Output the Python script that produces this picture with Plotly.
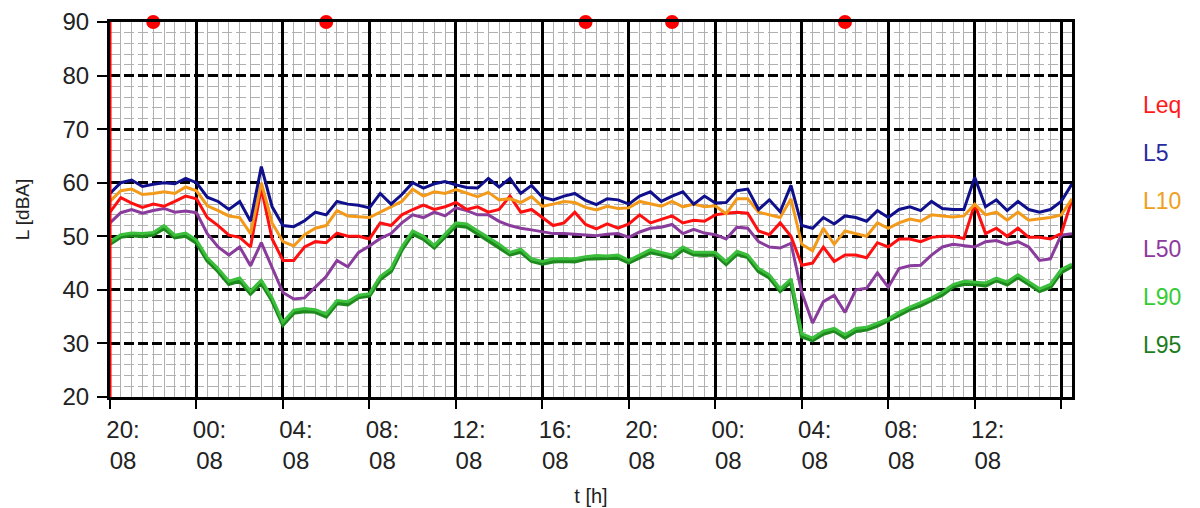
import plotly.graph_objects as go

# ---- data (30-minute steps, hours since 20:08) ----
step_h = 0.5
hours = [i * step_h for i in range(90)]

leq = [54.5, 57.2, 56.2, 55.4, 56.0, 55.6, 56.5, 57.5, 57.0, 53.5,
       52.0, 50.2, 49.8, 48.0, 59.0, 49.5, 45.5, 45.5, 48.0, 49.0,
       48.8, 50.6, 50.0, 50.0, 49.5, 52.5, 52.0, 54.0, 55.0, 55.8,
       55.0, 55.5, 56.3, 55.0, 55.5, 54.5, 55.0, 57.5, 54.5, 55.0,
       53.5, 52.0, 52.5, 54.5, 52.2, 51.4, 52.3, 51.5, 52.3, 54.0,
       52.5, 53.2, 53.8, 52.5, 53.0, 52.8, 54.0, 54.3, 54.5, 54.3,
       51.0, 50.3, 52.5, 50.0, 44.6, 45.0, 48.0, 45.3, 46.5, 46.5,
       46.0, 48.8, 48.0, 49.5, 49.5, 49.0, 49.8, 50.0, 50.0, 49.6,
       56.0, 50.5, 51.5, 50.0, 51.5, 49.8, 49.8, 49.5, 50.5, 56.8]

l5 = [58.0, 60.0, 60.5, 59.3, 59.7, 60.0, 59.8, 60.8, 60.0, 57.3,
      56.5, 55.0, 56.5, 52.8, 63.0, 55.5, 52.0, 51.8, 52.9, 54.5,
      54.0, 56.5, 56.0, 55.8, 55.3, 58.0, 56.0, 57.8, 60.0, 59.0,
      59.8, 60.2, 59.6, 59.1, 59.0, 60.8, 59.2, 60.8, 58.0, 59.5,
      57.3, 56.8, 57.5, 58.0, 56.7, 55.9, 57.0, 56.8, 56.0, 57.5,
      58.3, 56.5, 57.5, 58.3, 56.0, 57.5, 56.2, 56.3, 58.5, 58.8,
      55.0, 56.8, 54.6, 59.5, 52.0, 51.5, 53.5, 52.3, 53.8, 53.5,
      52.8, 54.8, 53.5, 55.0, 55.5, 54.8, 56.5, 55.2, 55.0, 55.0,
      61.0, 55.5, 56.8, 54.8, 56.5, 55.0, 54.5, 55.0, 56.5, 59.8]

l10 = [56.5, 58.5, 58.8, 57.8, 58.0, 58.3, 58.0, 59.2, 58.5, 55.7,
       54.8, 53.8, 53.5, 50.5, 60.0, 52.5, 49.0, 48.2, 50.3, 51.5,
       52.0, 54.8, 53.8, 53.6, 53.5, 54.5, 55.5, 56.5, 58.8, 57.5,
       58.3, 58.0, 58.7, 58.0, 57.4, 58.2, 56.8, 57.0, 56.3, 57.4,
       55.6, 56.0, 56.5, 56.3, 55.4, 54.9, 55.6, 55.2, 55.3, 56.5,
       56.0, 55.6, 56.5, 55.5, 56.0, 55.5, 55.7, 54.2, 57.0, 57.0,
       54.5, 54.0, 53.5, 57.0, 48.5, 47.3, 51.5, 48.5, 51.0, 50.5,
       50.0, 52.5, 51.5, 52.5, 53.2, 52.8, 54.0, 53.8, 53.6, 53.8,
       56.0, 54.0, 54.5, 53.0, 54.5, 53.0, 53.3, 53.5, 54.0, 57.0]

l50 = [52.5, 54.4, 55.0, 54.3, 54.8, 55.2, 54.5, 54.7, 54.4, 50.5,
       48.0, 46.5, 48.0, 44.5, 48.8, 44.0, 39.5, 38.3, 38.5, 40.5,
       42.5, 45.5, 44.3, 47.0, 48.2, 49.6, 50.5, 52.5, 54.0, 53.5,
       54.5, 53.8, 55.3, 54.8, 54.0, 54.0, 52.8, 52.0, 51.5, 51.2,
       50.8, 50.5, 50.5, 50.4, 50.3, 50.1, 50.4, 50.5, 49.8, 50.8,
       51.5, 51.7, 52.2, 50.5, 51.3, 50.6, 50.3, 49.5, 51.7, 51.5,
       49.0, 48.0, 47.8, 48.7, 39.5, 33.8, 37.8, 39.0, 35.8, 40.0,
       40.3, 43.2, 40.5, 44.0, 44.5, 44.6, 46.5, 48.0, 48.5, 48.3,
       48.0, 49.0, 49.2, 48.5, 49.0, 48.0, 45.5, 45.8, 50.2, 50.5]

l90 = [49.0, 50.3, 50.6, 50.5, 50.7, 52.0, 50.2, 50.6, 49.3, 46.0,
       44.0, 41.6, 42.2, 39.8, 41.8, 38.5, 34.0, 36.2, 36.5, 36.3,
       35.5, 38.0, 37.8, 39.0, 39.3, 42.5, 44.0, 48.0, 51.0, 50.0,
       48.3, 50.5, 52.5, 52.3, 51.0, 49.8, 48.5, 47.0, 47.6, 45.8,
       45.3, 45.8, 45.8, 45.8, 46.2, 46.4, 46.3, 46.5, 45.5, 46.5,
       47.5, 47.0, 46.5, 48.0, 47.0, 47.0, 47.0, 45.3, 47.2, 46.5,
       44.0, 42.8, 40.2, 42.0, 31.8, 31.0, 32.3, 32.8, 31.6, 32.8,
       33.0, 33.8, 34.6, 35.8, 36.8, 37.6, 38.5, 39.6, 41.0, 41.6,
       41.5, 41.3, 42.2, 41.5, 42.8, 41.5, 40.2, 41.0, 43.8, 44.8]

l95 = [48.6, 49.9, 50.2, 50.0, 50.3, 51.5, 49.8, 50.1, 48.8, 45.5,
       43.5, 41.1, 41.7, 39.3, 41.3, 38.0, 33.5, 35.7, 36.0, 35.9,
       35.0, 37.5, 37.3, 38.6, 38.9, 42.0, 43.5, 47.5, 50.5, 49.5,
       47.9, 50.0, 52.0, 51.8, 50.5, 49.3, 48.0, 46.6, 47.1, 45.4,
       44.9, 45.3, 45.4, 45.3, 45.8, 45.9, 45.9, 46.0, 45.1, 46.0,
       47.0, 46.6, 46.0, 47.5, 46.6, 46.5, 46.6, 44.8, 46.7, 46.1,
       43.5, 42.3, 39.8, 41.5, 31.3, 30.6, 31.8, 32.4, 31.1, 32.3,
       32.6, 33.3, 34.2, 35.3, 36.4, 37.1, 38.1, 39.1, 40.6, 41.1,
       41.1, 40.8, 41.8, 41.0, 42.4, 41.0, 39.8, 40.5, 43.3, 44.4]

# event markers (hours since start), drawn on the 90 dB line
event_hours = [2, 10, 22, 26, 34]
event_level = 90

tick_hours = [0, 4, 8, 12, 16, 20, 24, 28, 32, 36, 40, 44]
tick_labels = ["20:<br>08", "00:<br>08", "04:<br>08", "08:<br>08", "12:<br>08",
               "16:<br>08", "20:<br>08", "00:<br>08", "04:<br>08", "08:<br>08",
               "12:<br>08", ""]

series = [
    ("L95", l95, "#1e8a1e", 4.0, "#1e7d1e"),
    ("L90", l90, "#3cbf3c", 3.0, "#33cc33"),
    ("L50", l50, "#8a3c9c", 3.0, "#8e3a9e"),
    ("Leq", leq, "#ff1010", 3.0, "#ff1a1a"),
    ("L10", l10, "#f39a1a", 3.0, "#f0a020"),
    ("L5", l5, "#10108c", 3.0, "#2a2aa0"),
]
legend_order = ["Leq", "L5", "L10", "L50", "L90", "L95"]

FONT = "Liberation Sans, Arial, sans-serif"

fig = go.Figure()
for name, vals, color, width, _ in series:
    fig.add_trace(go.Scatter(x=hours, y=vals, mode="lines", name=name,
                             line=dict(color=color, width=width),
                             showlegend=False))

fig.add_trace(go.Scatter(x=event_hours, y=[event_level] * len(event_hours),
                         mode="markers", marker=dict(color="#ff0000", size=14),
                         cliponaxis=False, showlegend=False, name="events"))

# red cursor line at the start of the record
fig.add_shape(type="line", xref="x", yref="paper", x0=hours[0], x1=hours[0],
              y0=0, y1=1, line=dict(color="#ff0000", width=3), layer="above")

# legend as coloured text on the right
label_colors = {s[0]: s[4] for s in series}
for i, name in enumerate(legend_order):
    fig.add_annotation(xref="paper", yref="paper", x=1.0715, y=0.779 - i * 0.128,
                       xanchor="left", yanchor="middle", showarrow=False,
                       text=name, font=dict(family=FONT, size=23,
                                            color=label_colors[name]))

fig.update_layout(
    width=1200, height=508,
    margin=dict(l=102, r=136, t=14, b=119, autoexpand=False),
    paper_bgcolor="white", plot_bgcolor="white",
    font=dict(family=FONT, color="#222"),
    xaxis=dict(
        range=[hours[0], hours[-1]],
        tickmode="array", tickvals=tick_hours, ticktext=tick_labels,
        tickfont=dict(size=24, color="#222"),
        ticklabelshift=13, ticklabelstandoff=0,
        ticks="outside", ticklen=9, tickwidth=2, tickcolor="black",
        showgrid=True, gridcolor="black", gridwidth=2.5,
        minor=dict(dtick=0.5, tick0=0, showgrid=True, gridcolor="#b0b0b0",
                   gridwidth=1.2, ticks=""),
        showline=True, linecolor="black", linewidth=3, mirror=True,
        zeroline=False,
        title=dict(text="t [h]", font=dict(size=20, color="#222"), standoff=16),
    ),
    yaxis=dict(
        range=[20, 90], tickmode="linear", tick0=20, dtick=10,
        tickfont=dict(size=24, color="#222"),
        ticklabelstandoff=3,
        ticks="outside", ticklen=10, tickwidth=2, tickcolor="black",
        showgrid=True, gridcolor="black", gridwidth=2.5, griddash="10px,4px",
        minor=dict(dtick=2, tick0=20, showgrid=True, gridcolor="#b0b0b0",
                   gridwidth=1.2, ticks=""),
        showline=True, linecolor="black", linewidth=3, mirror=True,
        zeroline=False,
        title=dict(text="L [dBA]", font=dict(size=19, color="#222"), standoff=28),
    ),
)

fig.write_html("out.html")
